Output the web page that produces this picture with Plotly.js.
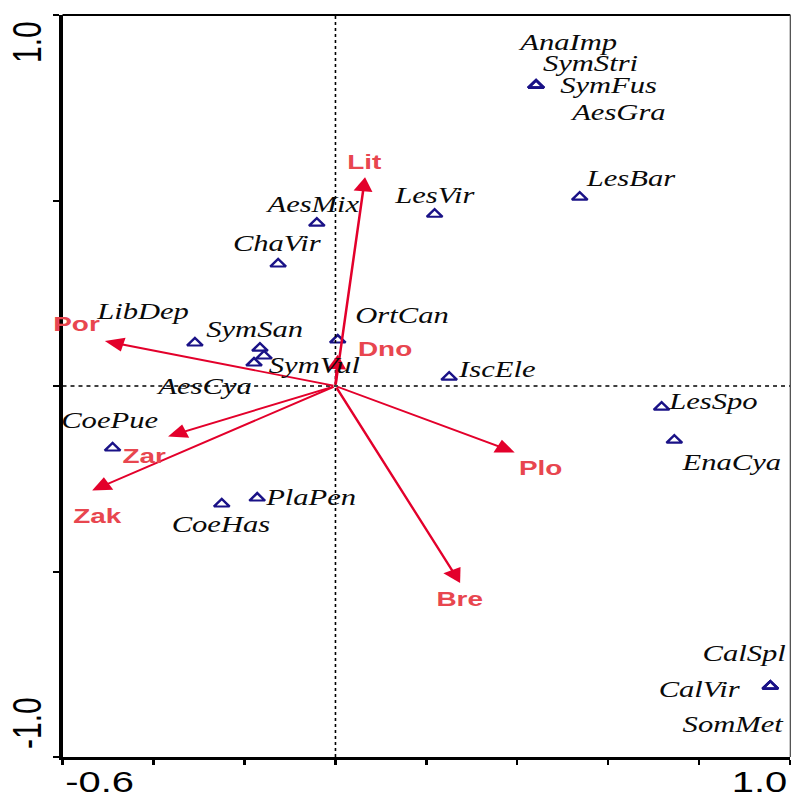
<!DOCTYPE html>
<html>
<head>
<meta charset="utf-8">
<script src="https://cdn.plot.ly/plotly-3.0.1.min.js"></script>
<style>
  html, body { margin: 0; padding: 0; background: #fff; overflow: hidden; }
  #wrap { width: 793px; height: 796px; overflow: hidden; }
  #chart { width: 596px; height: 796px; transform-origin: 0 0; }
</style>
</head>
<body>
<div id="wrap"><div id="chart"></div></div>
<script>
// ---- species scores (triangles) ----
const speciesNames = ["AnaImp","SymStri","SymFus","AesGra","LesBar","LesVir","AesMix","ChaVir",
  "LibDep","SymSan","OrtCan","SymVul","AesCya","CoePue","CoeHas","PlaPen","IscEle",
  "LesSpo","EnaCya","CalSpl","CalVir","SomMet"];
const speciesX = [0.441,0.441,0.441,0.441,0.537,0.218,-0.041,-0.126,
  -0.309,-0.166,0.005,-0.157,-0.179,-0.490,-0.250,-0.172,0.250,
  0.717,0.745,0.956,0.956,0.956];
const speciesY = [0.811,0.811,0.811,0.811,0.509,0.463,0.439,0.329,
  0.116,0.102,0.124,0.081,0.062,-0.167,-0.318,-0.302,0.024,
  -0.057,-0.146,-0.809,-0.809,-0.809];

// ---- environmental variables (arrows) ----
const envNames = ["Lit","Dno","Por","Zar","Zak","Plo","Bre"];
const envX = [0.065,0.005,-0.507,-0.368,-0.535,0.394,0.274];
const envY = [0.563,0.084,0.121,-0.136,-0.282,-0.179,-0.531];

// ---- axes ----
const xRange = [-0.6, 1.0];
const yRange = [-1.0, 1.0];
const xTickVals = [-0.6,-0.4,-0.2,0,0.2,0.4,0.6,0.8,1.0];
const yTickVals = [-1.0,-0.5,0,0.5,1.0];
const xEndLabels = ["-0.6","1.0"];
const yEndLabels = ["-1.0","1.0"];

// ---- label placement (offsets in screen px of the final picture) ----
const speciesLabelDX = [32,55,73,81,52,0,-4,-1,-53,-5,64,51,-51,-3,-1,54,47,51,57,-26,-71,-37];
const speciesLabelDY = [-43,-22,0,27,-19,-19,-19,-20,-31,-19,-25,10,23,-27,21,-1,-8,-6,22,-33,3,38];
const envLabelDX = [0,47,-28,-24,6,26,-1];
const envLabelDY = [-16,-6,-18,19,25,15,15];

const S = 793/596; // horizontal stretch of the original picture

const annotations = [];
const shapes = [];

// zero lines (dashed)
shapes.push({type:'line', xref:'x', yref:'y', x0:xRange[0], x1:xRange[1], y0:0, y1:0,
  line:{color:'#000', width:1.3, dash:'3px,3px'}});
shapes.push({type:'line', xref:'x', yref:'y', x0:0, x1:0, y0:yRange[0], y1:yRange[1],
  line:{color:'#000', width:1.2, dash:'3px,3px'}});
// top and right frame
shapes.push({type:'line', xref:'paper', yref:'paper', x0:0, x1:1, y0:1, y1:1,
  line:{color:'#000', width:2}});
shapes.push({type:'line', xref:'paper', yref:'paper', x0:1, x1:1, y0:0, y1:1,
  line:{color:'#555', width:1}});

// arrows
const arrowColor = '#e3002b';
const envLabelColor = '#e8464f';
for (let i = 0; i < envNames.length; i++) {
  annotations.push({x:envX[i], y:envY[i], xref:'x', yref:'y', ax:0, ay:0, axref:'x', ayref:'y',
    text:'', showarrow:true, arrowhead:2, arrowsize:1.5, arrowwidth:1.9, arrowcolor:arrowColor});
}
for (let i = 0; i < envNames.length; i++) {
  annotations.push({x:envX[i], y:envY[i], xref:'x', yref:'y', showarrow:false,
    text:'<b>'+envNames[i]+'</b>', xanchor:'center', yanchor:'middle',
    xshift:envLabelDX[i]/S, yshift:-envLabelDY[i],
    font:{family:'Liberation Sans, Arial, sans-serif', size:21, color:envLabelColor}});
}
// species labels
for (let i = 0; i < speciesNames.length; i++) {
  annotations.push({x:speciesX[i], y:speciesY[i], xref:'x', yref:'y', showarrow:false,
    text:'<i>'+speciesNames[i]+'</i>', xanchor:'center', yanchor:'middle',
    xshift:speciesLabelDX[i]/S, yshift:-speciesLabelDY[i],
    font:{family:'Liberation Serif, Times New Roman, serif', size:23, color:'#0a0a0a'}});
}
// axis end labels
const endFont = {family:'Liberation Sans, Arial, sans-serif', size:30, color:'#000'};
annotations.push({xref:'paper', yref:'paper', x:0, y:0, xanchor:'left', yanchor:'middle',
  yshift:-24, showarrow:false, text:xEndLabels[0], font:endFont});
annotations.push({xref:'paper', yref:'paper', x:1, y:0, xanchor:'right', yanchor:'middle',
  yshift:-24, showarrow:false, text:xEndLabels[1], font:endFont});
annotations.push({xref:'paper', yref:'paper', x:0, y:0, xanchor:'center', yanchor:'middle',
  xshift:-27, yshift:34, textangle:-90, showarrow:false, text:yEndLabels[0], font:endFont});
annotations.push({xref:'paper', yref:'paper', x:0, y:1, xanchor:'center', yanchor:'middle',
  xshift:-27, yshift:-27, textangle:-90, showarrow:false, text:yEndLabels[1], font:endFont});

const traces = [{
  type:'scatter', mode:'markers', x:speciesX, y:speciesY, hoverinfo:'skip',
  marker:{symbol:'triangle-up-open', size:10, color:'#1a1287', line:{width:2.1, color:'#1a1287'}}
}];

const layout = {
  width:596, height:796,
  margin:{l:47, r:2, t:15, b:39, pad:0},
  paper_bgcolor:'#fff', plot_bgcolor:'#fff',
  showlegend:false,
  xaxis:{range:xRange, tickmode:'array', tickvals:xTickVals, showticklabels:false,
    ticks:'outside', ticklen:5, tickwidth:1.6, tickcolor:'#000',
    showline:true, linewidth:2.5, linecolor:'#000', showgrid:false, zeroline:false, fixedrange:true},
  yaxis:{range:yRange, tickmode:'array', tickvals:yTickVals, showticklabels:false,
    ticks:'outside', ticklen:4, tickwidth:2, tickcolor:'#000',
    showline:true, linewidth:3, linecolor:'#000', showgrid:false, zeroline:false, fixedrange:true},
  shapes:shapes,
  annotations:annotations
};

document.getElementById('chart').style.transform = 'scaleX(' + S + ')';
Plotly.newPlot('chart', traces, layout, {displayModeBar:false, staticPlot:true});
</script>
</body>
</html>
